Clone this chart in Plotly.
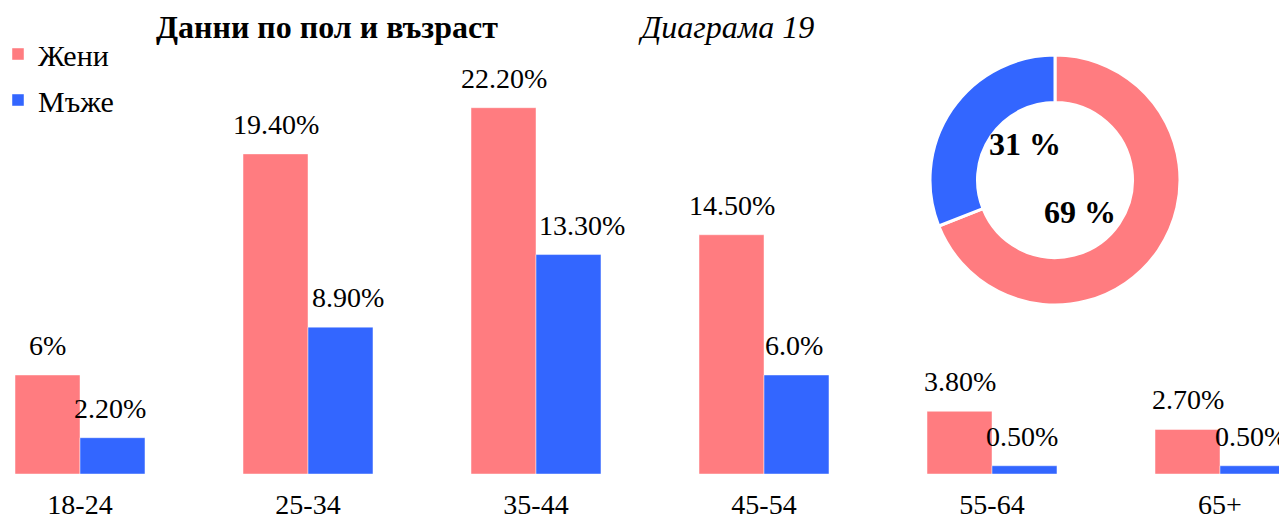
import plotly.graph_objects as go

# ---- data ----
categories = ["18-24", "25-34", "35-44", "45-54", "55-64", "65+"]
women = [6.0, 19.4, 22.2, 14.5, 3.8, 2.7]
men = [2.2, 8.9, 13.3, 6.0, 0.5, 0.5]
women_labels = ["6%", "19.40%", "22.20%", "14.50%", "3.80%", "2.70%"]
men_labels = ["2.20%", "8.90%", "13.30%", "6.0%", "0.50%", "0.50%"]
pie_labels = ["Жени", "Мъже"]
pie_values = [69, 31]
pie_text = ["69 %", "31 %"]

# ---- style ----
PINK = "#FF7C80"
BLUE = "#3366FF"
FONT = "Liberation Serif"
OFF = 8                      # page body margin of the html page
W, H = 1287 - OFF, 521 - OFF
MB = 47
PH = H - MB                  # plot-area height (px)
PXW = 228                    # px per category
PX_PER_PCT = 16.5
men_label_dx = [-2, 8, 14, -2, -2, -1]  # small horizontal nudges of men labels (px)


def px_x(ax):  # absolute screen x -> paper x
    return (ax - OFF) / W


def px_y(ay):  # absolute screen y -> paper y (plot area starts at top of figure)
    return (PH - (ay - OFF)) / PH


fig = go.Figure()
fig.add_trace(go.Bar(x=categories, y=women, name="Жени",
                     marker=dict(color=PINK, line=dict(color="rgba(255,255,255,0.45)", width=1)),
                     legendgroup="w", hoverinfo="skip"))
fig.add_trace(go.Bar(x=categories, y=men, name="Мъже",
                     marker=dict(color=BLUE, line=dict(color="rgba(255,255,255,0.45)", width=1)),
                     legendgroup="m", hoverinfo="skip"))

fig.add_trace(go.Pie(labels=pie_labels, values=pie_values, hole=0.62, sort=False, direction="clockwise",
                     rotation=0, marker=dict(colors=[PINK, BLUE], line=dict(color="white", width=3)),
                     textinfo="none", showlegend=False, hoverinfo="skip",
                     domain=dict(x=[px_x(930), px_x(1180)], y=[px_y(305), px_y(55)])))

annotations = []
half = PXW * (1 - 0.43) / 4
for i, c in enumerate(categories):
    annotations.append(dict(x=c, y=women[i], xref="x", yref="y", text=women_labels[i], showarrow=False,
                            xanchor="center", xshift=-half, yshift=12, yanchor="bottom",
                            font=dict(family=FONT, size=28, color="black")))
    annotations.append(dict(x=c, y=men[i], xref="x", yref="y", text=men_labels[i], showarrow=False,
                            xanchor="center", xshift=half + men_label_dx[i], yshift=12, yanchor="bottom",
                            font=dict(family=FONT, size=28, color="black")))

# donut labels
annotations.append(dict(x=px_x(1025), y=px_y(144), xref="paper", yref="paper", text="<b>" + pie_text[1] + "</b>",
                        showarrow=False, xanchor="center", yanchor="middle",
                        font=dict(family=FONT, size=32, color="black")))
annotations.append(dict(x=px_x(1080), y=px_y(212), xref="paper", yref="paper", text="<b>" + pie_text[0] + "</b>",
                        showarrow=False, xanchor="center", yanchor="middle",
                        font=dict(family=FONT, size=32, color="black")))
# titles
annotations.append(dict(x=px_x(327), y=px_y(27), xref="paper", yref="paper", text="<b>Данни по пол и възраст</b>",
                        showarrow=False, xanchor="center", yanchor="middle",
                        font=dict(family=FONT, size=32, color="black")))
annotations.append(dict(x=px_x(726), y=px_y(27), xref="paper", yref="paper", text="<i>Диаграма 19</i>",
                        showarrow=False, xanchor="center", yanchor="middle",
                        font=dict(family=FONT, size=32, color="black")))

x0 = -(80 - OFF) / PXW
fig.update_layout(
    width=W, height=H,
    margin=dict(l=0, r=0, t=0, b=MB, autoexpand=False),
    barmode="group", bargap=0.43, bargroupgap=0,
    plot_bgcolor="white", paper_bgcolor="white",
    font=dict(family=FONT, size=28, color="black"),
    xaxis=dict(type="category", range=[x0, x0 + W / PXW], showgrid=False, zeroline=False, showline=False,
               ticks="", ticklabelstandoff=11, tickfont=dict(family=FONT, size=28, color="black"),
               fixedrange=True),
    yaxis=dict(range=[0, PH / PX_PER_PCT], showgrid=False, zeroline=False, showline=False,
               showticklabels=False, fixedrange=True),
    showlegend=True,
    legend=dict(x=-10 / W, y=px_y(20 + OFF), xanchor="left", yanchor="top", bgcolor="rgba(0,0,0,0)",
                font=dict(family=FONT, size=30, color="black"), tracegroupgap=4,
                itemclick=False, itemdoubleclick=False),
    annotations=annotations,
)

fig.write_html("out.html")
